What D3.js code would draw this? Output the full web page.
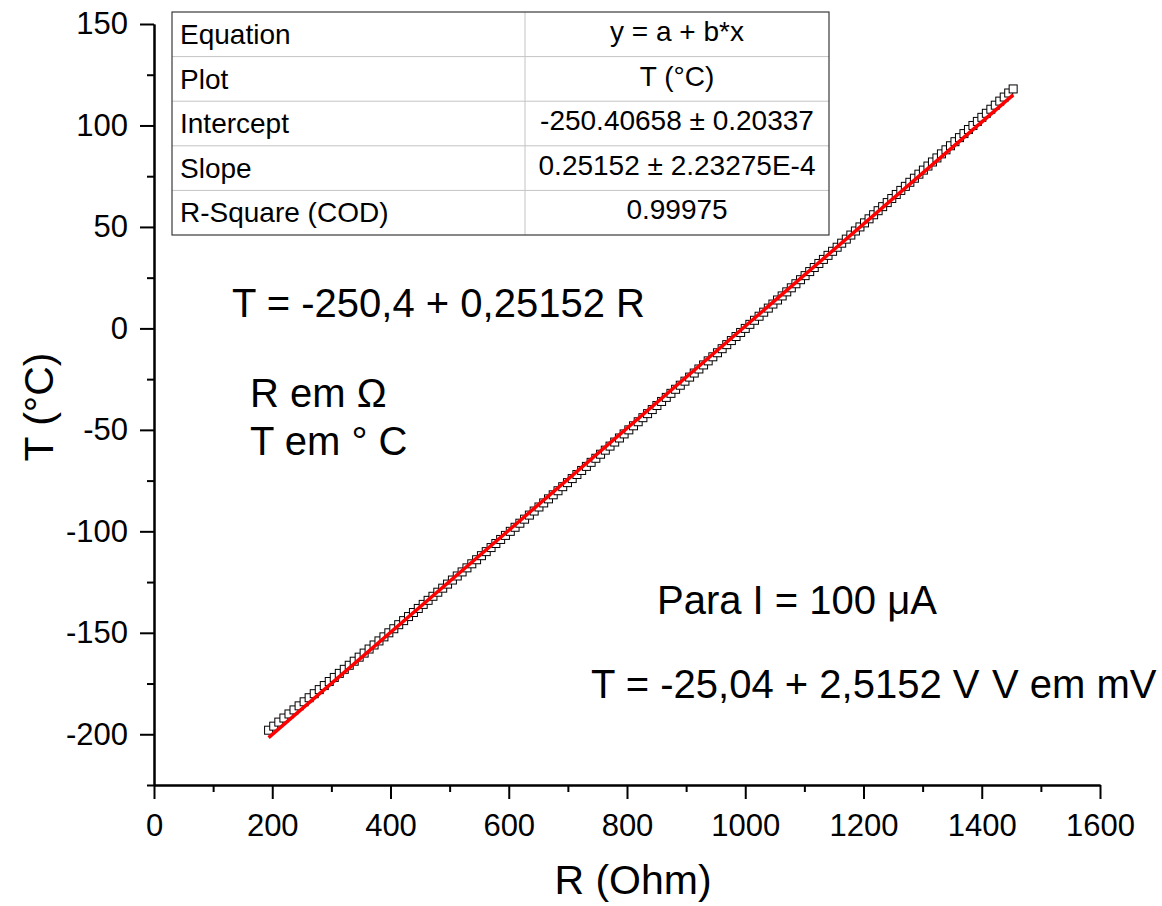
<!DOCTYPE html>
<html>
<head>
<meta charset="utf-8">
<script src="https://cdn.jsdelivr.net/npm/d3@7"></script>
<style>
  html, body { margin: 0; padding: 0; background: #fff; }
  svg { display: block; font-family: "Liberation Sans", Arial, sans-serif; }
</style>
</head>
<body>
<svg id="chart" width="1162" height="906"></svg>
<script>
// ---- data ----
const R_OHM = [193.8,202.5,211.1,219.7,228.3,236.8,245.4,253.9,262.4,271.0,
  279.5,288.0,296.4,304.9,313.4,321.8,330.2,338.6,347.0,355.4,
  363.8,372.2,380.5,388.9,397.2,405.6,413.9,422.2,430.5,438.8,
  447.0,455.3,463.6,471.8,480.0,488.3,496.5,504.7,512.9,521.1,
  529.3,537.5,545.6,553.8,561.9,570.1,578.2,586.3,594.4,602.6,
  610.7,618.8,626.8,634.9,643.0,651.1,659.1,667.2,675.2,683.3,
  691.3,699.3,707.3,715.3,723.3,731.3,739.3,747.3,755.3,763.3,
  771.3,779.2,787.2,795.1,803.1,811.0,818.9,826.9,834.8,842.7,
  850.6,858.5,866.4,874.3,882.2,890.1,898.0,905.9,913.7,921.6,
  929.5,937.3,945.2,953.0,960.9,968.7,976.5,984.4,992.2,1000.0,
  1007.8,1015.6,1023.4,1031.2,1039.0,1046.8,1054.6,1062.4,1070.2,1077.9,
  1085.7,1093.5,1101.2,1109.0,1116.7,1124.5,1132.2,1140.0,1147.7,1155.4,
  1163.1,1170.9,1178.6,1186.3,1194.0,1201.7,1209.4,1217.1,1224.7,1232.4,
  1240.1,1247.8,1255.4,1263.1,1270.8,1278.4,1286.1,1293.7,1301.3,1309.0,
  1316.6,1324.2,1331.8,1339.5,1347.1,1354.7,1362.3,1369.9,1377.5,1385.1,
  1392.6,1400.2,1407.8,1415.4,1422.9,1430.5,1438.0,1445.6,1453.1];
const T_C = [-198,-196,-194,-192,-190,-188,-186,-184,-182,-180,
  -178,-176,-174,-172,-170,-168,-166,-164,-162,-160,
  -158,-156,-154,-152,-150,-148,-146,-144,-142,-140,
  -138,-136,-134,-132,-130,-128,-126,-124,-122,-120,
  -118,-116,-114,-112,-110,-108,-106,-104,-102,-100,
  -98,-96,-94,-92,-90,-88,-86,-84,-82,-80,
  -78,-76,-74,-72,-70,-68,-66,-64,-62,-60,
  -58,-56,-54,-52,-50,-48,-46,-44,-42,-40,
  -38,-36,-34,-32,-30,-28,-26,-24,-22,-20,
  -18,-16,-14,-12,-10,-8,-6,-4,-2,0,
  2,4,6,8,10,12,14,16,18,20,
  22,24,26,28,30,32,34,36,38,40,
  42,44,46,48,50,52,54,56,58,60,
  62,64,66,68,70,72,74,76,78,80,
  82,84,86,88,90,92,94,96,98,100,
  102,104,106,108,110,112,114,116,118];

const FIT_INTERCEPT = -250.40658;
const FIT_SLOPE = 0.25152;

const X_TICKS = [0,200,400,600,800,1000,1200,1400,1600];
const X_MINOR = [100,300,500,700,900,1100,1300,1500];
const Y_TICKS = [-200,-150,-100,-50,0,50,100,150];
const Y_MINOR = [-225,-175,-125,-75,-25,25,75,125];

const TABLE_LABELS = ["Equation","Plot","Intercept","Slope","R-Square (COD)"];
const TABLE_VALUES = ["y = a + b*x","T (\u00B0C)","-250.40658 \u00B1 0.20337","0.25152 \u00B1 2.23275E-4","0.99975"];

const X_TITLE = "R (Ohm)";
const Y_TITLE = "T (\u00B0C)";
const NOTES = [
  {text: "T = -250,4 + 0,25152 R", x: 232, y: 317},
  {text: "R em \u03A9", x: 250, y: 407},
  {text: "T em \u00B0 C", x: 250, y: 455},
  {text: "Para I = 100 \u03BCA", x: 657, y: 614},
  {text: "T = -25,04 + 2,5152 V", x: 591, y: 698},
  {text: "V em mV", x: 992, y: 698}
];

// ---- drawing ----
const svg = d3.select("#chart");
const x = d3.scaleLinear().domain([0, 1600]).range([154, 1100]);
const y = d3.scaleLinear().domain([-225, 150]).range([785, 24]);

// data squares
const pts = R_OHM.map((r, i) => ({r, t: T_C[i]}));
const S = 8;
svg.append("g").selectAll("rect").data(pts).join("rect")
  .attr("x", d => x(d.r) - S/2)
  .attr("y", d => y(d.t) - S/2)
  .attr("width", S).attr("height", S)
  .attr("fill", "#fff").attr("stroke", "#000").attr("stroke-width", 1);

// fit line
const rExt = d3.extent(R_OHM);
svg.append("path")
  .datum(rExt.map(r => ({r, t: FIT_INTERCEPT + FIT_SLOPE * r})))
  .attr("d", d3.line().x(d => x(d.r)).y(d => y(d.t)))
  .attr("fill", "none").attr("stroke", "#ff0000").attr("stroke-width", 3.5);

// axes
const fmt = d => String(d);
function styleAxis(g) {
  g.select(".domain").attr("stroke", "#000").attr("stroke-width", 2);
  g.selectAll(".tick line").attr("stroke", "#000").attr("stroke-width", 2);
  g.selectAll(".tick text").attr("fill", "#000").style("font-size", "31px")
    .style("font-family", '"Liberation Sans", Arial, sans-serif');
}
const xg = svg.append("g").attr("transform", "translate(0,785)")
  .call(d3.axisBottom(x).tickValues(X_TICKS).tickSize(14).tickSizeOuter(0).tickPadding(15).tickFormat(fmt));
styleAxis(xg);
const xm = svg.append("g").attr("transform", "translate(0,785)")
  .call(d3.axisBottom(x).tickValues(X_MINOR).tickSize(7).tickSizeOuter(0).tickFormat(""));
styleAxis(xm);
const yg = svg.append("g").attr("transform", "translate(154,0)")
  .call(d3.axisLeft(y).tickValues(Y_TICKS).tickSize(14).tickSizeOuter(0).tickPadding(12).tickFormat(fmt));
styleAxis(yg);
const ym = svg.append("g").attr("transform", "translate(154,0)")
  .call(d3.axisLeft(y).tickValues(Y_MINOR).tickSize(7).tickSizeOuter(0).tickFormat(""));
styleAxis(ym);

// axis titles
svg.append("text").attr("x", 633).attr("y", 894).attr("text-anchor", "middle")
  .style("font-size", "41px").text(X_TITLE);
svg.append("text").attr("transform", "translate(53,407) rotate(-90)").attr("text-anchor", "middle")
  .style("font-size", "41px").text(Y_TITLE);

// table
const tb = {x0: 172, x1: 829, xm: 525, y0: 12, rowH: 44.6};
const tg = svg.append("g");
TABLE_LABELS.forEach((lab, i) => {
  const top = tb.y0 + i * tb.rowH;
  if (i > 0) {
    tg.append("line").attr("x1", tb.x0).attr("x2", tb.x1).attr("y1", top).attr("y2", top)
      .attr("stroke", "#c4c4c4").attr("stroke-width", 1);
  }
  tg.append("text").attr("x", tb.x0 + 8).attr("y", top + 32).style("font-size", "28px").text(lab);
  tg.append("text").attr("x", (tb.xm + tb.x1) / 2).attr("y", top + 29).attr("text-anchor", "middle")
    .style("font-size", "28px").text(TABLE_VALUES[i]);
});
tg.append("line").attr("x1", tb.xm).attr("x2", tb.xm).attr("y1", tb.y0).attr("y2", tb.y0 + 5 * tb.rowH)
  .attr("stroke", "#c4c4c4").attr("stroke-width", 1);
tg.append("rect").attr("x", tb.x0).attr("y", tb.y0).attr("width", tb.x1 - tb.x0).attr("height", 5 * tb.rowH)
  .attr("fill", "none").attr("stroke", "#3a3a3a").attr("stroke-width", 1.2);

// annotations
svg.append("g").selectAll("text").data(NOTES).join("text")
  .attr("x", d => d.x).attr("y", d => d.y)
  .style("font-size", "40px").text(d => d.text);
</script>
</body>
</html>
